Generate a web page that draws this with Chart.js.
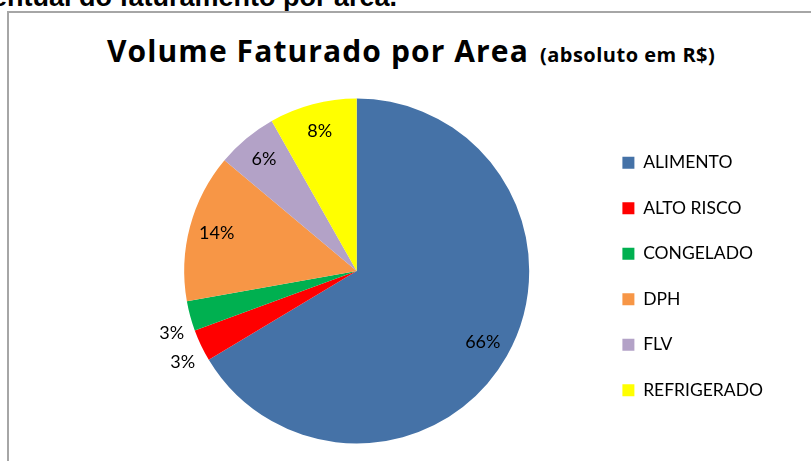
<!DOCTYPE html>
<html>
<head>
<meta charset="utf-8">
<script src="https://cdn.jsdelivr.net/npm/chart.js@4/dist/chart.umd.min.js"></script>
<style>
body{margin:0;width:811px;height:461px;overflow:hidden;background:#fff;position:relative}
#topo{position:absolute;right:414px;top:-16px;font:bold 27px/1 "Liberation Sans",Arial,sans-serif;color:#000;white-space:nowrap}
#moldura{position:absolute;left:7px;top:11px;width:820px;height:470px;border-left:2px solid #a6a6a6;border-top:2px solid #a6a6a6}
#titulo{position:absolute;left:107px;top:36.4px;font:bold 30px/1 "Open Sans",sans-serif;letter-spacing:1.1px;color:#000;white-space:nowrap}
#titulo span{font-size:20px;letter-spacing:0.5px;margin-left:11px}
#grafico{position:absolute;left:0;top:0}
</style>
</head>
<body>
<div id="topo">Percentual do faturamento por área.</div>
<div id="moldura"></div>
<div id="titulo">Volume Faturado por Area<span>(absoluto em R$)</span></div>
<canvas id="grafico" width="811" height="461"></canvas>
<script>
var categorias = ['ALIMENTO', 'ALTO RISCO', 'CONGELADO', 'DPH', 'FLV', 'REFRIGERADO'];
var valores = [66.4, 3.0, 2.8, 13.9, 5.7, 8.2];
var cores = ['#4572A7', '#FF0000', '#00B050', '#F79646', '#B3A2C7', '#FFFF00'];

// rotulos de porcentagem em cada fatia
var rotulos = {
  id: 'rotulos',
  afterDatasetsDraw: function(chart) {
    var ctx = chart.ctx;
    var meta = chart.getDatasetMeta(0);
    var total = valores.reduce(function(a, b) { return a + b; }, 0);
    ctx.save();
    ctx.font = '18px Lato';
    ctx.fillStyle = '#000';
    meta.data.forEach(function(arc, i) {
      var p = arc.getProps(['x', 'y', 'startAngle', 'endAngle', 'outerRadius'], true);
      var meio = (p.startAngle + p.endAngle) / 2;
      var pct = valores[i] / total * 100;
      var txt = Math.round(pct) + '%';
      if (pct < 5) {
        // fatias pequenas: rotulo do lado de fora
        var bx = p.x + Math.cos(meio) * p.outerRadius;
        var by = p.y + Math.sin(meio) * p.outerRadius;
        ctx.textAlign = 'right';
        ctx.textBaseline = 'top';
        ctx.fillText(txt, bx - 6, by + 8);
      } else {
        ctx.textAlign = 'center';
        ctx.textBaseline = 'middle';
        ctx.fillText(txt, p.x + Math.cos(meio) * p.outerRadius * 0.84, p.y + Math.sin(meio) * p.outerRadius * 0.84);
      }
    });
    ctx.restore();
  }
};

var ajusteLegenda = {
  id: 'ajusteLegenda',
  afterLayout: function(chart) {
    chart.legend.top += 5.5;
    chart.legend.bottom += 5.5;
  }
};

new Chart('grafico', {
  type: 'pie',
  data: {
    labels: categorias,
    datasets: [{
      data: valores,
      backgroundColor: cores,
      borderWidth: 0
    }]
  },
  options: {
    responsive: false,
    animation: false,
    layout: { padding: { left: 119, right: 38, top: 98.5, bottom: 17.5 } },
    plugins: {
      legend: {
        position: 'right',
        labels: {
          boxWidth: 12,
          boxHeight: 12,
          padding: 28,
          color: '#000',
          font: { family: 'Lato', size: 17.5 }
        }
      },
      tooltip: { enabled: false }
    }
  },
  plugins: [rotulos, ajusteLegenda]
});
</script>
</body>
</html>
